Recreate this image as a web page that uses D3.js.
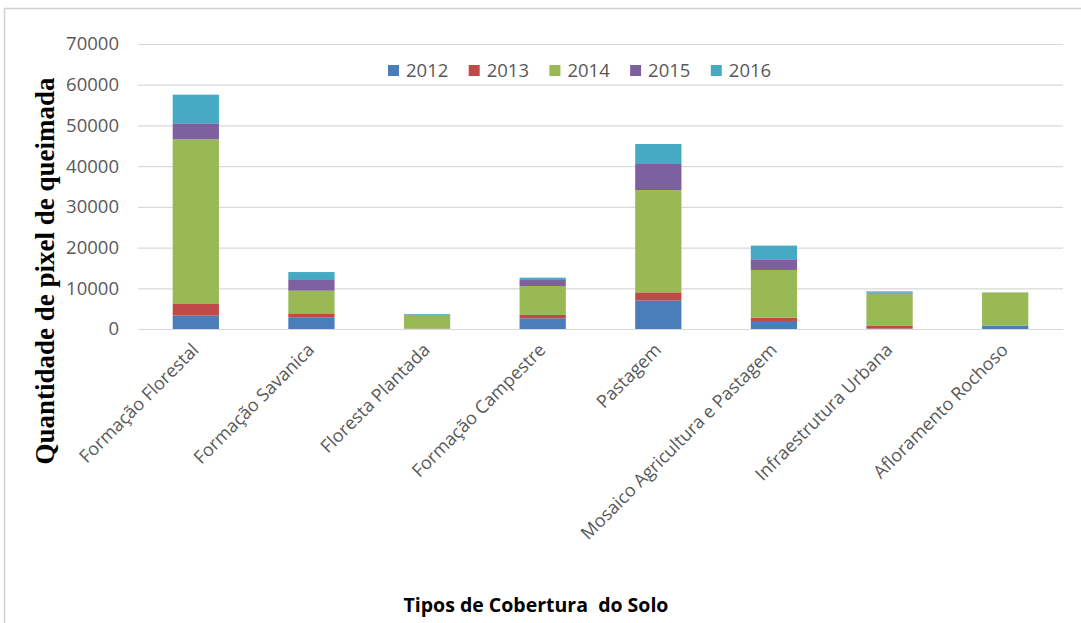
<!DOCTYPE html>
<html><head><meta charset="utf-8">
<script src="https://cdn.jsdelivr.net/npm/d3@7"></script>
<style>body{margin:0;background:#fff}svg{display:block}</style>
</head><body>
<svg id="c" width="1081" height="623"></svg>
<script>
const categories = ["Formação Florestal","Formação Savanica","Floresta Plantada","Formação Campestre","Pastagem","Mosaico Agricultura e Pastagem","Infraestrutura Urbana","Afloramento Rochoso"];
const years = ["2012","2013","2014","2015","2016"];
const v2012 = [3270, 2780, 50, 2620, 6960, 1970, 100, 860];
const v2013 = [2870, 1060, 30, 820, 2050, 820, 650, 0];
const v2014 = [40450, 5570, 3250, 7120, 25130, 11710, 7950, 8100];
const v2015 = [3930, 2620, 200, 1470, 6390, 2460, 250, 0];
const v2016 = [7040, 1960, 170, 570, 4910, 3520, 300, 50];
const yTicks = [0,10000,20000,30000,40000,50000,60000,70000];
const colors = ["#4a7ebb","#be4b48","#98b954","#7d60a0","#46aac5"];

const series = [v2012,v2013,v2014,v2015,v2016];
const rows = categories.map((c,i)=>{const o={cat:c}; years.forEach((y,j)=>o[y]=series[j][i]); return o;});
const stacked = d3.stack().keys(years)(rows);

const svg = d3.select("#c");
const m={left:138,right:1063,top:44,bottom:329};

// frame
svg.append("rect").attr("x",4.5).attr("y",8.5).attr("width",1090).attr("height",630)
  .attr("fill","#fff").attr("stroke","#d0d0d0").attr("stroke-width",1.5);

const x = d3.scaleBand().domain(categories).range([m.left,m.right]).paddingInner(0.6).paddingOuter(0.3);
const y = d3.scaleLinear().domain([0,70000]).range([m.bottom,m.top]);

// grid
const yAxis = d3.axisLeft(y).tickValues(yTicks).tickSize(-(m.right-m.left)).tickPadding(19).tickFormat(d3.format("d"));
const gy = svg.append("g").attr("transform",`translate(${m.left},0)`).call(yAxis);
gy.select(".domain").remove();
gy.selectAll(".tick line").attr("stroke","#d9d9d9").attr("stroke-width",1.2);
gy.selectAll(".tick text").attr("fill","#595959").style("font-family","'Open Sans'").style("font-size","18.5px");

// bars
svg.append("g").selectAll("g").data(stacked).join("g").attr("fill",(d,i)=>colors[i])
  .selectAll("rect").data(d=>d).join("rect")
  .attr("x",d=>x(d.data.cat)).attr("width",x.bandwidth())
  .attr("y",d=>y(d[1])).attr("height",d=>Math.max(0,y(d[0])-y(d[1])));

// x axis labels
const xAxis = d3.axisBottom(x).tickSize(0).tickPadding(0);
const gx = svg.append("g").attr("transform",`translate(0,${m.bottom})`).call(xAxis);
gx.select(".domain").remove();
gx.selectAll(".tick text").attr("fill","#595959").style("font-family","'Open Sans'").style("font-size","18px")
  .attr("text-anchor","end").attr("dy","0").attr("y",0)
  .attr("transform","translate(4,22) rotate(-45)");

// legend
const lg = svg.append("g").attr("transform","translate(388,70)");
years.forEach((yr,i)=>{
  const g = lg.append("g").attr("transform",`translate(${i*80.7},0)`);
  g.append("rect").attr("x",0).attr("y",-5).attr("width",11).attr("height",11).attr("fill",colors[i]);
  g.append("text").attr("x",18).attr("y",0).attr("dy","0.37em").attr("fill","#595959")
    .style("font-family","'Open Sans'").style("font-size","18.5px").text(yr);
});

// axis titles
svg.append("text").attr("transform","translate(54,271) rotate(-90)").attr("text-anchor","middle")
  .style("font-family","'Liberation Serif'").style("font-weight","bold").style("font-size","27px")
  .attr("fill","#000").text("Quantidade de pixel de queimada");
svg.append("text").attr("x",536).attr("y",612).attr("text-anchor","middle")
  .style("font-family","'Open Sans'").style("font-weight","bold").style("font-size","19.5px")
  .attr("fill","#000").style("white-space","pre").text("Tipos de Cobertura  do Solo");
</script>
</body></html>
